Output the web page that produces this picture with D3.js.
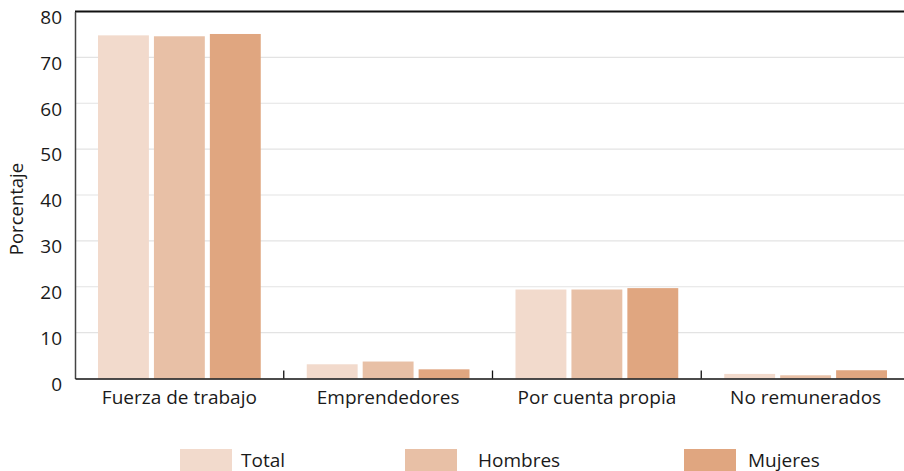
<!DOCTYPE html>
<html>
<head>
<meta charset="utf-8">
<script src="https://cdn.jsdelivr.net/npm/d3@7"></script>
<style>
  body { margin: 0; background: #fff; }
  svg { display: block; }
  svg text { font-family: "Open Sans", sans-serif; }
  .grid line { stroke: #e3e3e3; stroke-width: 1.2; }
</style>
</head>
<body>
<div id="chart"></div>
<script>
// chart data
var categories = ['Fuerza de trabajo', 'Emprendedores', 'Por cuenta propia', 'No remunerados'];
var seriesNames = ['Total', 'Hombres', 'Mujeres'];
var total = [74.8, 3.1, 19.4, 1.0];
var hombres = [74.6, 3.7, 19.4, 0.7];
var mujeres = [75.1, 2.0, 19.7, 1.8];
var yTicks = [0, 10, 20, 30, 40, 50, 60, 70, 80];
var colors = ['#f2dacc', '#e8c0a6', '#e0a680'];

var seriesValues = [total, hombres, mujeres];

// layout
var W = 904, H = 471;
var margin = {left: 75, right: 910, top: 11.5, bottom: 378.5};

var svg = d3.select('#chart')
  .append('svg')
  .attr('width', W)
  .attr('height', H);

var x0 = d3.scaleBand()
  .domain(categories)
  .range([margin.left, margin.right])
  .paddingInner(0)
  .paddingOuter(0);

var x1 = d3.scaleBand()
  .domain(seriesNames)
  .range([23, x0.bandwidth() - 23])
  .paddingInner(0.09);

var y = d3.scaleLinear()
  .domain([0, 80])
  .range([margin.bottom, margin.top]);

// gridlines
svg.append('g')
  .attr('class', 'grid')
  .selectAll('line')
  .data(yTicks.filter(function(d) { return d > 0 && d < 80; }))
  .enter().append('line')
    .attr('x1', margin.left)
    .attr('x2', W)
    .attr('y1', function(d) { return y(d); })
    .attr('y2', function(d) { return y(d); });

// bars
var groups = svg.append('g')
  .selectAll('g')
  .data(categories)
  .enter().append('g')
    .attr('transform', function(d) { return 'translate(' + x0(d) + ',0)'; });

groups.selectAll('rect')
  .data(function(d, i) {
    return seriesNames.map(function(s, j) { return {series: s, value: seriesValues[j][i], idx: j}; });
  })
  .enter().append('rect')
    .attr('x', function(d) { return x1(d.series); })
    .attr('width', x1.bandwidth())
    .attr('y', function(d) { return y(d.value); })
    .attr('height', function(d) { return y(0) - y(d.value); })
    .attr('fill', function(d) { return colors[d.idx]; });

// top border
svg.append('line')
  .attr('x1', margin.left).attr('x2', W)
  .attr('y1', y(80)).attr('y2', y(80))
  .attr('stroke', '#111').attr('stroke-width', 2);

// y axis
var yAxis = svg.append('g')
  .attr('transform', 'translate(' + margin.left + ',0)')
  .call(d3.axisLeft(y).tickValues(yTicks).tickSize(0).tickPadding(13));
yAxis.select('.domain').attr('stroke', '#444').attr('stroke-width', 1.5);
yAxis.selectAll('text')
  .attr('dy', '0.62em')
  .attr('y', 0)
  .attr('fill', '#1a1a1a')
  .style('font-size', '19px');

// x axis with inward ticks at band boundaries
var xAxis = svg.append('g')
  .attr('transform', 'translate(0,' + margin.bottom + ')')
  .call(d3.axisBottom(x0).tickSize(0).tickPadding(12));
xAxis.select('.domain').attr('stroke', '#111').attr('stroke-width', 1.5);
xAxis.selectAll('text')
  .attr('fill', '#1a1a1a')
  .style('font-size', '19px');

svg.append('g')
  .selectAll('line')
  .data(categories.slice(1))
  .enter().append('line')
    .attr('x1', function(d) { return x0(d); })
    .attr('x2', function(d) { return x0(d); })
    .attr('y1', margin.bottom)
    .attr('y2', margin.bottom - 8)
    .attr('stroke', '#111')
    .attr('stroke-width', 1.3);

// y axis title
svg.append('text')
  .attr('transform', 'translate(23,' + ((margin.top + margin.bottom) / 2 + 14) + ') rotate(-90)')
  .attr('text-anchor', 'middle')
  .style('font-size', '18.5px')
  .attr('fill', '#1a1a1a')
  .text('Porcentaje');

// legend
var legendX = [180, 405, 684];
var legend = svg.append('g')
  .selectAll('g')
  .data(seriesNames)
  .enter().append('g')
    .attr('transform', function(d, i) { return 'translate(' + legendX[i] + ',449)'; });

legend.append('rect')
  .attr('width', 52)
  .attr('height', 22)
  .attr('fill', function(d, i) { return colors[i]; });

legend.append('text')
  .attr('x', function(d, i) { return [61, 73, 64][i]; })
  .attr('y', 18)
  .style('font-size', '19px')
  .attr('fill', '#1a1a1a')
  .text(function(d) { return d; });
</script>
</body>
</html>
